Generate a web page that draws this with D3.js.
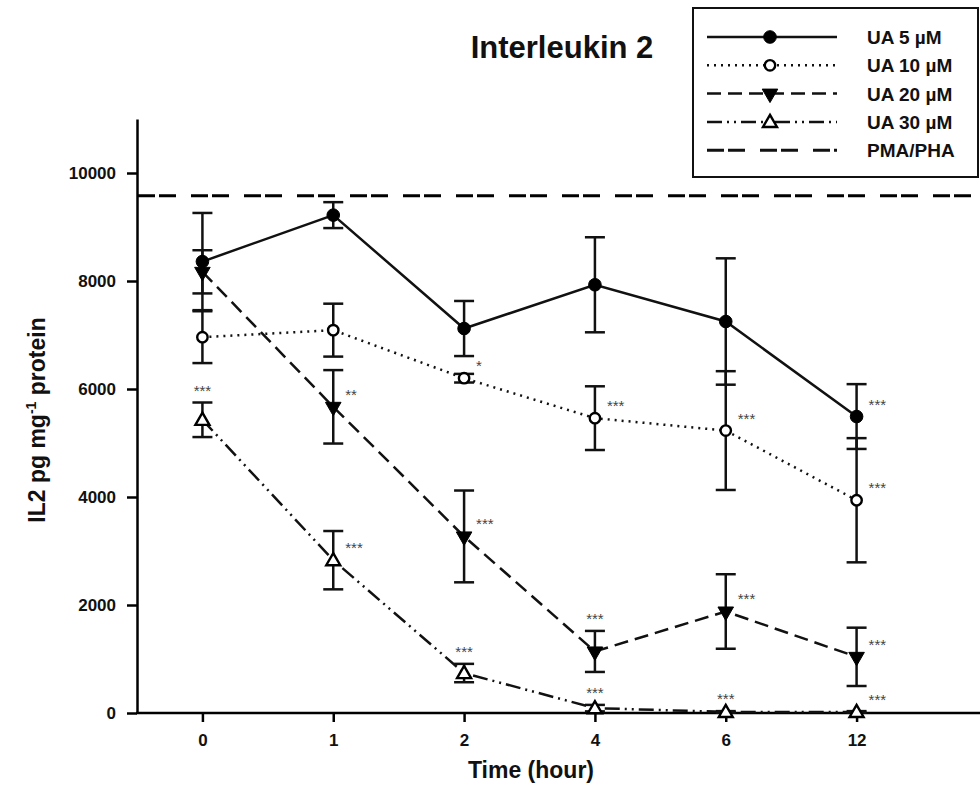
<!DOCTYPE html>
<html>
<head>
<meta charset="utf-8">
<script src="https://cdn.jsdelivr.net/npm/d3@7"></script>
<style>
  body { margin: 0; background: #fff; }
  text { font-family: Arial, "Liberation Sans", sans-serif; }
</style>
</head>
<body>
<div id="chart"></div>
<script>
// data
var times = ["0", "1", "2", "4", "6", "12"];
var ua5 = [8360, 9220, 7120, 7930, 7250, 5490];
var ua5Err = [900, 240, 510, 880, 1170, 600];
var ua10 = [6960, 7090, 6200, 5460, 5230, 3940];
var ua10Err = [480, 490, 80, 590, 1100, 1150];
var ua20 = [8170, 5670, 3270, 1140, 1880, 1040];
var ua20Err = [400, 680, 850, 380, 690, 540];
var ua30 = [5430, 2830, 740, 90, 20, 20];
var ua30Err = [320, 540, 170, 60, 15, 15];
var pmaPha = 9580;
var yTicks = [0, 2000, 4000, 6000, 8000, 10000];
var seriesNames = ["UA 5 \u00b5M", "UA 10 \u00b5M", "UA 20 \u00b5M", "UA 30 \u00b5M", "PMA/PHA"];

// significance marks: series index, time, label, placement
var sigSeries = [3, 2, 3, 1, 2, 3, 1, 2, 3, 1, 2, 3, 0, 1, 2, 3];
var sigTimes = ["0", "1", "1", "2", "2", "2", "4", "4", "4", "6", "6", "6", "12", "12", "12", "12"];
var sigLabels = ["***", "**", "***", "*", "***", "***", "***", "***", "***", "***", "***", "***", "***", "***", "***", "***"];
var sigPlace = ["top", "right", "right", "right", "right", "top", "right", "top", "top", "right", "right", "top", "right", "right", "right", "right"];

var W = 980, H = 803;
var svg = d3.select("#chart").append("svg")
  .attr("width", W).attr("height", H)
  .style("background", "#fff");

var x = d3.scalePoint().domain(times).range([137, 922]).padding(0.5);
var y = d3.scaleLinear().domain([0, 11000]).range([713, 119]);

// ---- series setup
var values = [ua5, ua10, ua20, ua30];
var errs = [ua5Err, ua10Err, ua20Err, ua30Err];
var dashes = [null, "2,5", "14,7", "15,5,2,5,2,5"];
var markerType = ["circle", "circle", "down", "up"];
var markerFill = ["#000", "#fff", "#000", "#fff"];

function drawMarker(g, t, fill, cx, cy, isOpen) {
  var p = g.append("path")
    .attr("d", t === "circle" ? d3.symbol().type(d3.symbolCircle).size(isOpen ? 85 : 125)() : d3.symbol().type(d3.symbolTriangle).size(isOpen ? 85 : 105)())
    .attr("fill", fill)
    .attr("stroke", "#000")
    .attr("stroke-width", isOpen ? 2.4 : 1);
  var tr = "translate(" + cx + "," + cy + ")";
  if (t === "down") tr += " rotate(180)";
  if (t === "up") tr += " translate(0,1)";
  p.attr("transform", tr);
  return p;
}

// ---- PMA/PHA reference line
svg.append("line")
  .attr("x1", 138).attr("x2", W)
  .attr("y1", y(pmaPha)).attr("y2", y(pmaPha))
  .attr("stroke", "#000").attr("stroke-width", 3)
  .attr("stroke-dasharray", "17,4,17,15");

// ---- axes
var yAxis = d3.axisLeft(y).tickValues(yTicks).tickFormat(d3.format("d"))
  .tickSize(10).tickSizeOuter(0).tickPadding(11);
var gy = svg.append("g").attr("transform", "translate(137,0)").call(yAxis);
gy.select(".domain").attr("stroke-width", 2.5);
gy.selectAll(".tick line").attr("stroke-width", 2.5);
gy.selectAll(".tick text").attr("font-size", 17).attr("font-weight", "bold")
  .attr("font-family", "Arial, 'Liberation Sans', sans-serif").attr("fill", "#111");

var xAxis = d3.axisBottom(x).tickSize(9).tickSizeOuter(0).tickPadding(12);
var gx = svg.append("g").attr("transform", "translate(0,713)").call(xAxis);
gx.select(".domain").remove();
gx.append("line").attr("x1", 136).attr("x2", W).attr("y1", 0).attr("y2", 0)
  .attr("stroke", "#000").attr("stroke-width", 2.5);
gx.selectAll(".tick line").attr("stroke-width", 2.5);
gx.selectAll(".tick text").attr("font-size", 17).attr("font-weight", "bold")
  .attr("font-family", "Arial, 'Liberation Sans', sans-serif").attr("fill", "#111");

// ---- lines
var line = d3.line()
  .x(function(d, i) { return x(times[i]); })
  .y(function(d) { return y(d); });

values.forEach(function(v, s) {
  var p = svg.append("path")
    .datum(v)
    .attr("d", line)
    .attr("fill", "none")
    .attr("stroke", "#111")
    .attr("stroke-width", 2.5);
  if (dashes[s]) p.attr("stroke-dasharray", dashes[s]);
});

// ---- error bars
values.forEach(function(v, s) {
  var g = svg.append("g").attr("stroke", "#111").attr("stroke-width", 2.5);
  v.forEach(function(val, i) {
    var cx = x(times[i]);
    var top = y(val + errs[s][i]), bot = y(Math.max(0, val - errs[s][i]));
    g.append("line").attr("x1", cx).attr("x2", cx).attr("y1", top).attr("y2", bot);
    g.append("line").attr("x1", cx - 10).attr("x2", cx + 10).attr("y1", top).attr("y2", top);
    g.append("line").attr("x1", cx - 10).attr("x2", cx + 10).attr("y1", bot).attr("y2", bot);
  });
});

// ---- markers
values.forEach(function(v, s) {
  var g = svg.append("g");
  v.forEach(function(val, i) {
    drawMarker(g, markerType[s], markerFill[s], x(times[i]), y(val), markerFill[s] === "#fff");
  });
});

// ---- significance asterisks
sigLabels.forEach(function(lab, k) {
  var s = sigSeries[k];
  var i = times.indexOf(sigTimes[k]);
  var cx = x(sigTimes[k]);
  var t = svg.append("text")
    .attr("font-size", 15)
    .attr("fill", "#444")
    .text(lab);
  if (sigPlace[k] === "top") {
    t.attr("x", cx).attr("y", y(values[s][i] + errs[s][i]) - 7).attr("text-anchor", "middle");
  } else {
    t.attr("x", cx + 12).attr("y", y(values[s][i]) - 7).attr("text-anchor", "start");
  }
});

// ---- titles
svg.append("text")
  .attr("x", 562).attr("y", 58)
  .attr("text-anchor", "middle")
  .attr("font-size", 31).attr("font-weight", "bold").attr("fill", "#111")
  .text("Interleukin 2");

svg.append("text")
  .attr("x", 531).attr("y", 778)
  .attr("text-anchor", "middle")
  .attr("font-size", 23).attr("font-weight", "bold").attr("fill", "#111")
  .text("Time (hour)");

var yt = svg.append("text")
  .attr("transform", "translate(45,420) rotate(-90)")
  .attr("text-anchor", "middle")
  .attr("font-size", 23).attr("font-weight", "bold").attr("fill", "#111");
yt.append("tspan").text("IL2 pg mg");
yt.append("tspan").attr("dy", -9).attr("font-size", 14).text("-1");
yt.append("tspan").attr("dy", 9).text(" protein");

// ---- legend
var lg = svg.append("g");
lg.append("rect")
  .attr("x", 693).attr("y", 8).attr("width", 285).attr("height", 169)
  .attr("fill", "#fff").attr("stroke", "#111").attr("stroke-width", 2);

var legendDash = dashes.concat(["17,4,17,15"]);
seriesNames.forEach(function(name, k) {
  var ry = 37 + k * 28.3;
  var l = lg.append("line")
    .attr("x1", 707).attr("x2", 837).attr("y1", ry).attr("y2", ry)
    .attr("stroke", "#111").attr("stroke-width", k === 4 ? 3 : 2.5);
  if (legendDash[k]) l.attr("stroke-dasharray", legendDash[k]);
  if (k < 4) drawMarker(lg, markerType[k], markerFill[k], 770, ry, markerFill[k] === "#fff");
  lg.append("text")
    .attr("x", 867).attr("y", ry + 7)
    .attr("font-size", 19).attr("font-weight", "bold").attr("fill", "#111")
    .text(name);
});
</script>
</body>
</html>
